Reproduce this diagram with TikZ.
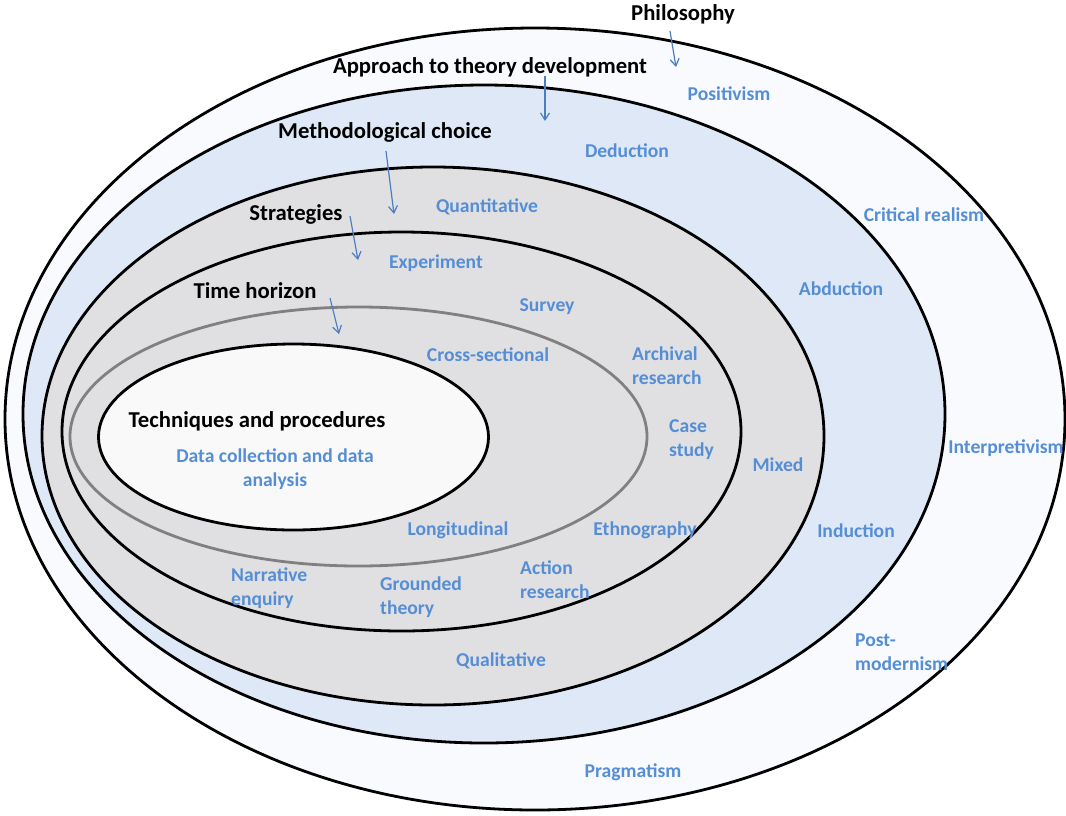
\documentclass[tikz,border=0pt]{standalone}
\usepackage{fontspec}
\setmainfont{Carlito}
\usetikzlibrary{arrows.meta}
\definecolor{outerfill}{HTML}{F8FAFE}
\definecolor{bandblue}{HTML}{DEE8F6}
\definecolor{bandgray}{HTML}{E0E0E3}
\definecolor{innerfill}{HTML}{F9F9F9}
\definecolor{labblue}{HTML}{558ED5}
\definecolor{arrblue}{HTML}{4A7EC0}
\definecolor{thgray}{HTML}{808080}
\tikzset{
  ring/.style={draw=black, line width=2.8pt},
  layer/.style={inner sep=0pt, font=\fontsize{22.7}{27}\selectfont\bfseries, text=black},
  item/.style={inner sep=0pt, font=\fontsize{19.6}{24}\selectfont\bfseries, text=labblue},
  pointer/.style={draw=arrblue, line width=1.2pt, -{Straight Barb[length=7pt,width=9pt]}}
}
\begin{document}
\begin{tikzpicture}[x=1pt,y=-1pt]
\useasboundingbox (0,0) rectangle (1066,815);
% rings
\draw[ring, fill=outerfill] (535,419) ellipse [x radius=530, y radius=391];
\draw[ring, fill=bandblue] (484,414) ellipse [x radius=461, y radius=329];
\draw[ring, fill=bandgray] (433,436) ellipse [x radius=391, y radius=269];
\draw[ring, fill=bandgray] (401.5,431.5) ellipse [x radius=339.5, y radius=199.5];
\draw[draw=thgray, line width=2.8pt, fill=bandgray] (358.5,436.5) ellipse [x radius=288.5, y radius=129.5];
\draw[ring, fill=innerfill] (293.5,437) ellipse [x radius=195, y radius=93];
% layer titles
\node[layer] (phil) at (683,14) {Philosophy};
\node[layer] (appr) at (490,67) {Approach to theory development};
\node[layer] (meth) at (385,132) {Methodological choice};
\node[layer] (strat) at (296,214) {Strategies};
\node[layer] (time) at (255,291) {Time horizon};
\node[layer] (tech) at (257,421) {Techniques and procedures};
% pointers
\coordinate (p1a) at (670,31); \coordinate (p1b) at (676,67);
\coordinate (p2a) at (545,76); \coordinate (p2b) at (545,121);
\coordinate (p3a) at (386,151); \coordinate (p3b) at (394,214);
\coordinate (p4a) at (350,216); \coordinate (p4b) at (358,260);
\coordinate (p5a) at (330,298); \coordinate (p5b) at (339,334);
\draw[pointer] (p1a) -- (p1b);
\draw[pointer] (p2a) -- (p2b);
\draw[pointer] (p3a) -- (p3b);
\draw[pointer] (p4a) -- (p4b);
\draw[pointer] (p5a) -- (p5b);
% items
\node[item] (posi) at (729,94) {Positivism};
\node[item] (crit) at (924,215) {Critical realism};
\node[item] (interp) at (1006,448) {Interpretivism};
\node[item, anchor=west, align=left] (postm) at (855,652) {Post-\\modernism};
\node[item] (prag) at (633,772) {Pragmatism};
\node[item] (dedu) at (627,151) {Deduction};
\node[item] (abdu) at (841,289) {Abduction};
\node[item] (indu) at (856,531) {Induction};
\node[item] (quan) at (487,207) {Quantitative};
\node[item] (mixd) at (778,465) {Mixed};
\node[item] (qual) at (501,661) {Qualitative};
\node[item] (expe) at (436,263) {Experiment};
\node[item] (surv) at (547,307) {Survey};
\node[item, anchor=west, align=left] (arch) at (632,366) {Archival\\research};
\node[item, anchor=west, align=left] (case) at (669,440) {Case\\study};
\node[item] (ethn) at (645,530) {Ethnography};
\node[item, anchor=west, align=left] (acti) at (520,580) {Action\\research};
\node[item, anchor=west, align=left] (grou) at (380,597) {Grounded\\theory};
\node[item, anchor=west, align=left] (narr) at (231,588) {Narrative\\enquiry};
\node[item] (cros) at (488,355) {Cross-sectional};
\node[item] (long) at (458,530) {Longitudinal};
\node[item, align=center] (data) at (275,469) {Data collection and data\\analysis};
\end{tikzpicture}
\end{document}
